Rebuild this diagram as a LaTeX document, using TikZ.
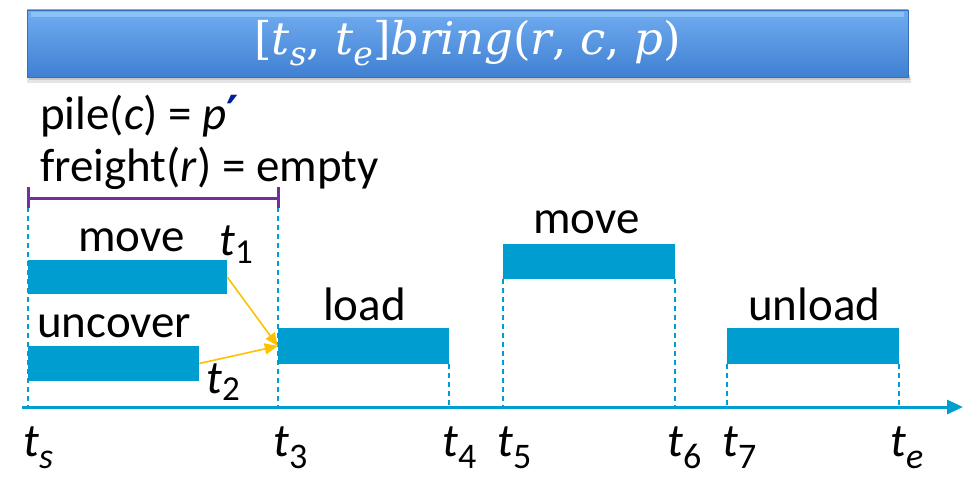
\documentclass[tikz,border=0pt]{standalone}
\usepackage{fontspec}
\setmainfont{Carlito}
\newfontfamily\titlefont{DejaVu Serif}
\newfontfamily\symfont{DejaVu Sans}
\usetikzlibrary{arrows.meta}
\definecolor{barblue}{RGB}{0,158,208}
\definecolor{brpurple}{RGB}{112,48,160}
\definecolor{arrowyellow}{RGB}{255,192,0}
\definecolor{primeblue}{RGB}{0,32,150}
\definecolor{titletop}{RGB}{112,172,240}
\definecolor{titlebot}{RGB}{64,128,210}
\definecolor{titlehi}{RGB}{150,205,250}
\definecolor{titleedge}{RGB}{55,110,185}
\newcommand{\tlab}[3]{\textit{t}\raisebox{-#2pt}{\fontsize{#3}{#3}\selectfont #1}}
\newcommand{\tisub}[1]{\raisebox{-11pt}{\fontsize{33}{33}\selectfont\textit{#1}}}
\begin{document}
\begin{tikzpicture}[x=1pt,y=-1pt,
  bar/.style={fill=barblue, draw=none, inner sep=0pt},
  lbl/.style={anchor=base west, inner sep=0pt, font=\fontsize{47}{56}\selectfont},
  guide/.style={draw=barblue, line width=2pt, dash pattern=on 5pt off 4pt},
  link/.style={draw=arrowyellow, line width=1.6pt, -{Triangle[length=13pt,width=11pt]}},
  axisline/.style={draw=barblue, line width=3pt, -{Triangle[length=16pt,width=14pt]}},
  bracket/.style={draw=brpurple, line width=3pt}]
\useasboundingbox (0,0) rectangle (976,476);
% title bar
\fill[black!10] (27,77) rectangle (911,83);
\fill[black!22] (29,75) rectangle (910,80);
\node[minimum width=881pt, minimum height=67pt, inner sep=0pt, draw=titleedge, line width=0.6pt,
      top color=titletop, bottom color=titlebot, text=white,
      font=\titlefont\fontsize{45}{50}\selectfont] (title) at (467.5,43.5)
      {[\textit{t}\tisub{s}, \textit{t}\tisub{e}]\textit{bring}(\textit{r}, \textit{c}, \textit{p})};
\fill[titlehi, opacity=0.7] ([xshift=4pt,yshift=-2pt]title.north west) rectangle ([xshift=-4pt,yshift=-7pt]title.north east);
% conditions
\node[lbl] (pile) at (40,129) {pile(\textit{c}) = \textit{p}{\symfont\bfseries\color{primeblue}′}};
\node[lbl] (freight) at (40,181) {freight(\textit{r}) = empty};
% axis
\coordinate (a0) at (22,407);
\coordinate (a1) at (963,407);
% guides (behind bars)
\draw[guide] (28,207) -- (28,407);
\draw[guide] (278,207) -- (278,407);
% bars
\node[bar, minimum width=199pt, minimum height=34pt] (m1) at (127.5,277) {};
\node[bar, minimum width=171pt, minimum height=35pt] (unc) at (113.5,363.5) {};
\node[bar, minimum width=171pt, minimum height=36pt] (ld) at (363.5,346) {};
\node[bar, minimum width=172pt, minimum height=35pt] (m2) at (589,261.5) {};
\node[bar, minimum width=172pt, minimum height=36pt] (ul) at (813,346) {};
\draw[guide] (ld.south east) -- (ld.south east |- a0);
\draw[guide] (m2.south west) -- (m2.south west |- a0);
\draw[guide] (m2.south east) -- (m2.south east |- a0);
\draw[guide] (ul.south west) -- (ul.south west |- a0);
\draw[guide] (ul.south east) -- (ul.south east |- a0);
% bracket
\coordinate (b0) at (28,198);
\coordinate (b1) at (278,198);
\draw[bracket] (b0) -- (b1);
\draw[bracket] (28,187) -- (28,208);
\draw[bracket] (278,187) -- (278,208);
\draw[axisline] (a0) -- (a1);
% links
\draw[link] (m1.east) -- (ld.west);
\draw[link] (unc.east) -- (ld.west);
% bar labels
\node[lbl] (lm1) at (78,251) {move};
\node[lbl] (lt1) at (219,255) {\tlab{1}{8}{35}};
\node[lbl] (lunc) at (37,337) {uncover};
\node[lbl] (lt2) at (206,393) {\tlab{2}{7}{35}};
\node[lbl] (lld) at (323,320) {load};
\node[lbl] (lm2) at (533,233) {move};
\node[lbl] (lul) at (748,320) {unload};
% axis labels
\node[lbl] (ts) at (23,456) {\tlab{\textit{s}}{12}{36}};
\node[lbl] (t3) at (273,456) {\tlab{3}{12}{36}};
\node[lbl] (t4) at (442,456) {\tlab{4}{12}{36}};
\node[lbl] (t5) at (497,456) {\tlab{5}{12}{36}};
\node[lbl] (t6) at (667,456) {\tlab{6}{12}{36}};
\node[lbl] (t7) at (722,456) {\tlab{7}{12}{36}};
\node[lbl] (te) at (890,456) {\tlab{\textit{e}}{12}{36}};
\end{tikzpicture}
\end{document}
